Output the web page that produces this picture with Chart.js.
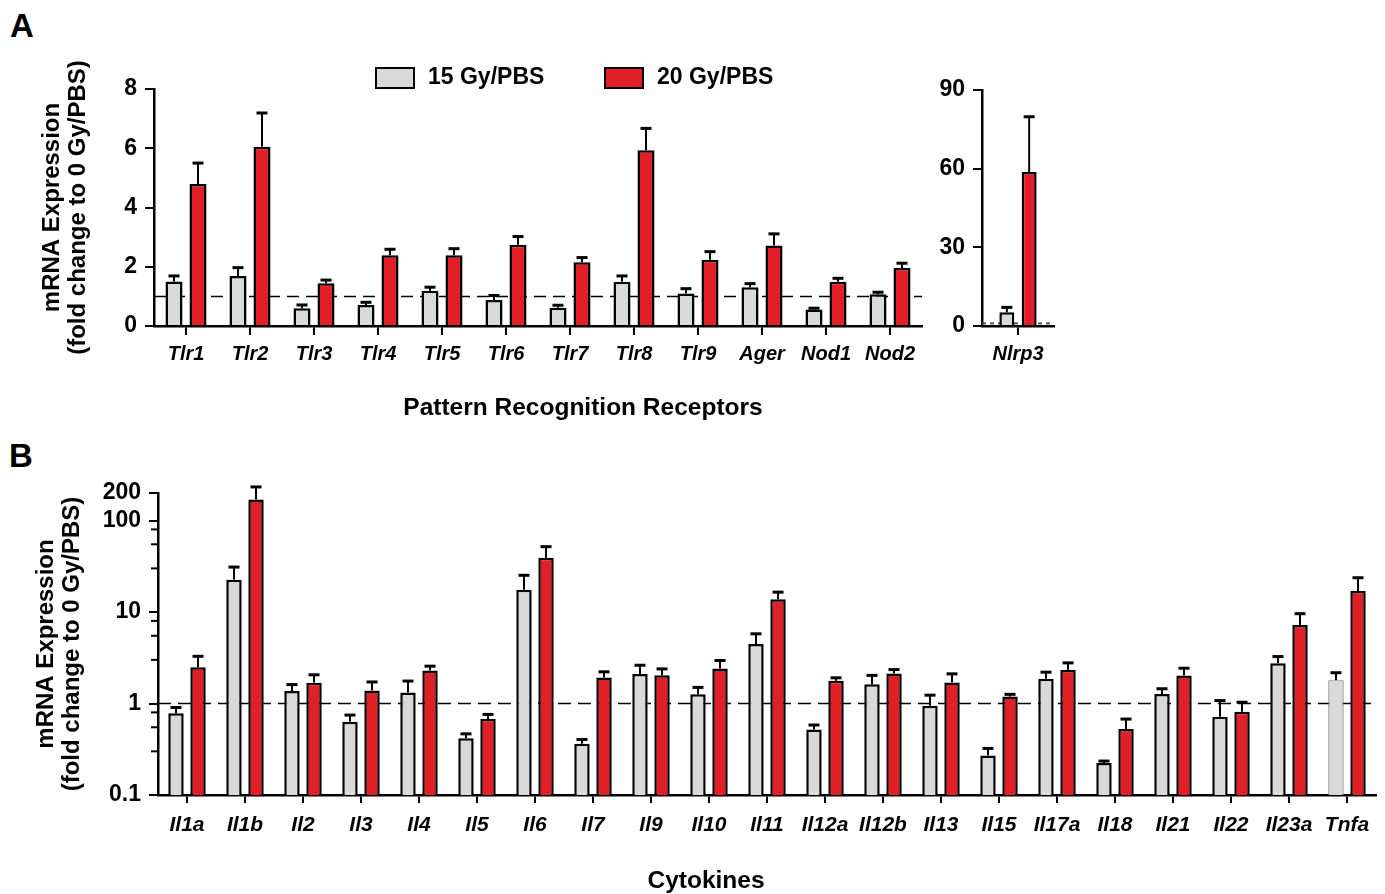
<!DOCTYPE html>
<html>
<head>
<meta charset="utf-8">
<title>mRNA Expression</title>
<script src="https://cdn.jsdelivr.net/npm/chart.js@4.4.1/dist/chart.umd.min.js"></script>
<style>
    body { margin: 0; background: #fff; width: 1385px; height: 894px; overflow: hidden; position: relative;
           font-family: Arial, 'Liberation Sans', sans-serif; }
    .painel { position: absolute; font-weight: bold; font-size: 33px; color: #000; }
    canvas { position: absolute; }
</style>
</head>
<body>
<div class="painel" style="left: 10px; top: 7px;">A</div>
<div class="painel" style="left: 9px; top: 437px;">B</div>
<canvas id="graficoA" width="935" height="440" style="left: 0; top: 0;"></canvas>
<canvas id="graficoInset" width="140" height="440" style="left: 935px; top: 0;"></canvas>
<canvas id="graficoB" width="1385" height="454" style="left: 0; top: 440px;"></canvas>

<script>
// ==================== DADOS ====================
const seriesLabels = ['15 Gy/PBS', '20 Gy/PBS'];
const referenceLevel = 1;

// Painel A - Pattern Recognition Receptors
const categoriesA = ['Tlr1', 'Tlr2', 'Tlr3', 'Tlr4', 'Tlr5', 'Tlr6', 'Tlr7', 'Tlr8', 'Tlr9', 'Ager', 'Nod1', 'Nod2'];
const gy15A = [1.50, 1.69, 0.60, 0.71, 1.19, 0.88, 0.62, 1.49, 1.10, 1.31, 0.56, 1.07];
const gy15ErrA = [0.19, 0.28, 0.11, 0.09, 0.12, 0.15, 0.08, 0.20, 0.16, 0.12, 0.04, 0.07];
const gy20A = [4.79, 6.05, 1.44, 2.39, 2.39, 2.74, 2.15, 5.93, 2.24, 2.72, 1.49, 1.96];
const gy20ErrA = [0.71, 1.14, 0.11, 0.20, 0.22, 0.28, 0.16, 0.74, 0.27, 0.39, 0.12, 0.16];
const ticksA = [0, 2, 4, 6, 8];

// Painel A - inset Nlrp3
const categoriesInset = ['Nlrp3'];
const gy15Inset = [5.2];
const gy15ErrInset = [1.9];
const gy20Inset = [58.7];
const gy20ErrInset = [21.1];
const ticksInset = [0, 30, 60, 90];

// Painel B - Cytokines (escala log)
const categoriesB = ['Il1a', 'Il1b', 'Il2', 'Il3', 'Il4', 'Il5', 'Il6', 'Il7', 'Il9', 'Il10', 'Il11',
    'Il12a', 'Il12b', 'Il13', 'Il15', 'Il17a', 'Il18', 'Il21', 'Il22', 'Il23a', 'Tnfa'];
const gy15B = [0.785, 22.6, 1.37, 0.633, 1.32, 0.418, 17.5, 0.363, 2.10, 1.26, 4.47,
    0.519, 1.62, 0.944, 0.271, 1.87, 0.224, 1.27, 0.717, 2.76, 1.80];
const gy15ErrB = [0.12, 8.4, 0.24, 0.115, 0.44, 0.048, 7.7, 0.041, 0.52, 0.24, 1.31,
    0.063, 0.41, 0.29, 0.052, 0.33, 0.011, 0.18, 0.36, 0.50, 0.37];
const gy20B = [2.49, 170, 1.69, 1.39, 2.30, 0.676, 39.1, 1.93, 2.04, 2.41, 13.8,
    1.77, 2.13, 1.70, 1.19, 2.33, 0.527, 2.03, 0.812, 7.23, 17.0];
const gy20ErrB = [0.79, 63, 0.37, 0.33, 0.26, 0.084, 12.7, 0.29, 0.35, 0.54, 2.7,
    0.14, 0.22, 0.41, 0.07, 0.45, 0.149, 0.40, 0.22, 2.36, 6.7];
const ticksB = [0.1, 1, 10, 100, 200];
const minorStepsB = [3, 5.5, 8];

// ==================== ESTILO ====================
const FONTE = "Arial, 'Liberation Sans', sans-serif";
const CINZA = '#d9d9d9';
const VERMELHO = '#e21f26';

// ==================== PLUGINS ====================
// Barras de erro (só para cima)
const errorBars = {
    id: 'errorBars',
    afterDatasetsDraw(chart) {
        const ctx = chart.ctx;
        const yScale = chart.scales.y;
        chart.data.datasets.forEach((ds, di) => {
            chart.getDatasetMeta(di).data.forEach((bar, i) => {
                const top = yScale.getPixelForValue(ds.data[i] + ds.errors[i]);
                ctx.save();
                ctx.strokeStyle = '#000';
                ctx.lineWidth = 2;
                ctx.beginPath();
                ctx.moveTo(bar.x, bar.y);
                ctx.lineTo(bar.x, top);
                ctx.stroke();
                ctx.lineWidth = 3;
                ctx.beginPath();
                ctx.moveTo(bar.x - 5.5, top);
                ctx.lineTo(bar.x + 5.5, top);
                ctx.stroke();
                ctx.restore();
            });
        });
    }
};

// Linha tracejada no nível 1
const refLine = {
    id: 'refLine',
    beforeDatasetsDraw(chart, args, opts) {
        const { ctx, chartArea } = chart;
        const y = chart.scales.y.getPixelForValue(referenceLevel);
        ctx.save();
        ctx.strokeStyle = opts.color || '#000';
        ctx.lineWidth = opts.width || 1.5;
        ctx.setLineDash(opts.dash || [12, 7]);
        ctx.beginPath();
        ctx.moveTo(chartArea.left, y);
        ctx.lineTo(chartArea.right, y);
        ctx.stroke();
        ctx.restore();
    }
};

// Texto livre (títulos dos eixos x)
const caption = {
    id: 'caption',
    afterDraw(chart, args, opts) {
        if (!opts.text) return;
        const ctx = chart.ctx;
        ctx.save();
        ctx.font = `bold ${opts.size}px ${FONTE}`;
        ctx.fillStyle = '#000';
        ctx.textAlign = 'center';
        ctx.textBaseline = 'middle';
        ctx.fillText(opts.text, opts.x, opts.y);
        ctx.restore();
    }
};

// Legenda desenhada à mão
const legendaA = {
    id: 'legendaA',
    afterDraw(chart, args, opts) {
        if (!opts.items) return;
        const ctx = chart.ctx;
        chart.data.datasets.forEach((ds, i) => {
            const item = opts.items[i];
            ctx.save();
            ctx.fillStyle = ds.backgroundColor;
            ctx.strokeStyle = '#000';
            ctx.lineWidth = 2;
            ctx.fillRect(item.x, opts.y, 38, 20);
            ctx.strokeRect(item.x, opts.y, 38, 20);
            ctx.font = `bold 23px ${FONTE}`;
            ctx.fillStyle = '#000';
            ctx.textBaseline = 'middle';
            ctx.fillText(ds.label, item.x + 52, opts.y + 10);
            ctx.restore();
        });
    }
};

// Marcas menores do eixo log
const minorTicks = {
    id: 'minorTicks',
    afterDraw(chart, args, opts) {
        if (!opts.steps) return;
        const ctx = chart.ctx;
        const yScale = chart.scales.y;
        ctx.save();
        ctx.strokeStyle = '#000';
        ctx.lineWidth = 2;
        for (let dec = yScale.min; dec < yScale.max; dec *= 10) {
            opts.steps.forEach(m => {
                const v = dec * m;
                if (v >= yScale.max) return;
                const y = yScale.getPixelForValue(v);
                ctx.beginPath();
                ctx.moveTo(yScale.right - 7, y);
                ctx.lineTo(yScale.right, y);
                ctx.stroke();
            });
        }
        ctx.restore();
    }
};

// ==================== CONSTRUÇÃO ====================
function criarDatasets(v15, e15, v20, e20, cats) {
    return [
        {
            label: seriesLabels[0],
            data: v15,
            errors: e15,
            backgroundColor: CINZA,
            borderColor: (c) => cats[c.dataIndex] === 'Tnfa' ? '#7a7a7a' : '#000',
            borderWidth: (c) => cats[c.dataIndex] === 'Tnfa' ? 1.2 : 2.5,
            borderSkipped: 'start'
        },
        {
            label: seriesLabels[1],
            data: v20,
            errors: e20,
            backgroundColor: VERMELHO,
            borderColor: '#000',
            borderWidth: 2.5,
            borderSkipped: 'start'
        }
    ];
}

function eixoX(fontSize, height, tickLen, pad) {
    return {
        z: 1,
        grid: { display: true, drawOnChartArea: false, offset: false, color: '#000', lineWidth: 2, tickLength: tickLen },
        border: { display: true, color: '#000', width: 2.5 },
        ticks: { color: '#000', autoSkip: false, maxRotation: 0, padding: pad,
                 font: { family: FONTE, size: fontSize, weight: 'bold', style: 'italic' } },
        afterFit: (s) => { s.height = height; }
    };
}

function eixoY(width, tickValues, titulo, tituloPad, extra) {
    return Object.assign({
        z: 1,
        grid: { display: true, drawOnChartArea: false, color: '#000', lineWidth: 2, tickLength: 9 },
        border: { display: true, color: '#000', width: 2.5 },
        ticks: { color: '#000', autoSkip: false, padding: 8, callback: (v) => String(v),
                 font: { family: FONTE, size: 23, weight: 'bold' } },
        title: titulo ? { display: true, text: titulo, color: '#000', padding: { top: tituloPad, bottom: 0 },
                 font: { family: FONTE, size: 24, weight: 'bold', lineHeight: 1.08 } } : { display: false },
        afterBuildTicks: (s) => { s.ticks = tickValues.map(v => ({ value: v })); },
        afterFit: (s) => { s.width = width; }
    }, extra);
}

const tituloY = ['mRNA Expression', '(fold change to 0 Gy/PBS)'];

// Painel A principal
new Chart(document.getElementById('graficoA'), {
    type: 'bar',
    data: { labels: categoriesA, datasets: criarDatasets(gy15A, gy15ErrA, gy20A, gy20ErrA, categoriesA) },
    options: {
        responsive: false,
        animation: false,
        layout: { padding: { top: 89, right: 13, bottom: 0, left: 0 } },
        datasets: { bar: { categoryPercentage: 0.75, barPercentage: 0.71 } },
        scales: {
            x: eixoX(20, 114, 9, 7),
            y: eixoY(154, ticksA, tituloY, 39, { min: 0, max: 8 })
        },
        plugins: {
            legend: { display: false },
            tooltip: { enabled: false },
            refLine: { dash: [12, 7], width: 1.5 },
            caption: { text: 'Pattern Recognition Receptors', x: 583, y: 408, size: 24.5 },
            legendaA: { y: 68, items: [{ x: 376 }, { x: 605 }] }
        }
    },
    plugins: [refLine, errorBars, caption, legendaA]
});

// Inset Nlrp3
new Chart(document.getElementById('graficoInset'), {
    type: 'bar',
    data: { labels: categoriesInset, datasets: criarDatasets(gy15Inset, gy15ErrInset, gy20Inset, gy20ErrInset, categoriesInset) },
    options: {
        responsive: false,
        animation: false,
        layout: { padding: { top: 90, right: 21, bottom: 0, left: 0 } },
        datasets: { bar: { categoryPercentage: 0.62, barPercentage: 0.67 } },
        scales: {
            x: eixoX(20, 114, 9, 7),
            y: eixoY(47, ticksInset, null, 0, { min: 0, max: 90 })
        },
        plugins: {
            legend: { display: false },
            tooltip: { enabled: false },
            refLine: { dash: [4, 4], width: 2, color: '#555' }
        }
    },
    plugins: [refLine, errorBars]
});

// Painel B
new Chart(document.getElementById('graficoB'), {
    type: 'bar',
    data: { labels: categoriesB, datasets: criarDatasets(gy15B, gy15ErrB, gy20B, gy20ErrB, categoriesB) },
    options: {
        responsive: false,
        animation: false,
        layout: { padding: { top: 53, right: 9, bottom: 0, left: 0 } },
        datasets: { bar: { categoryPercentage: 0.76, barPercentage: 0.7 } },
        scales: {
            x: eixoX(21, 99, 8, 10),
            y: eixoY(158, ticksB, tituloY, 33, { type: 'logarithmic', min: 0.1, max: 200 })
        },
        plugins: {
            legend: { display: false },
            tooltip: { enabled: false },
            refLine: { dash: [13, 7], width: 1.5 },
            caption: { text: 'Cytokines', x: 706, y: 441, size: 24.5 },
            minorTicks: { steps: minorStepsB }
        }
    },
    plugins: [refLine, errorBars, caption, minorTicks]
});
</script>
</body>
</html>
